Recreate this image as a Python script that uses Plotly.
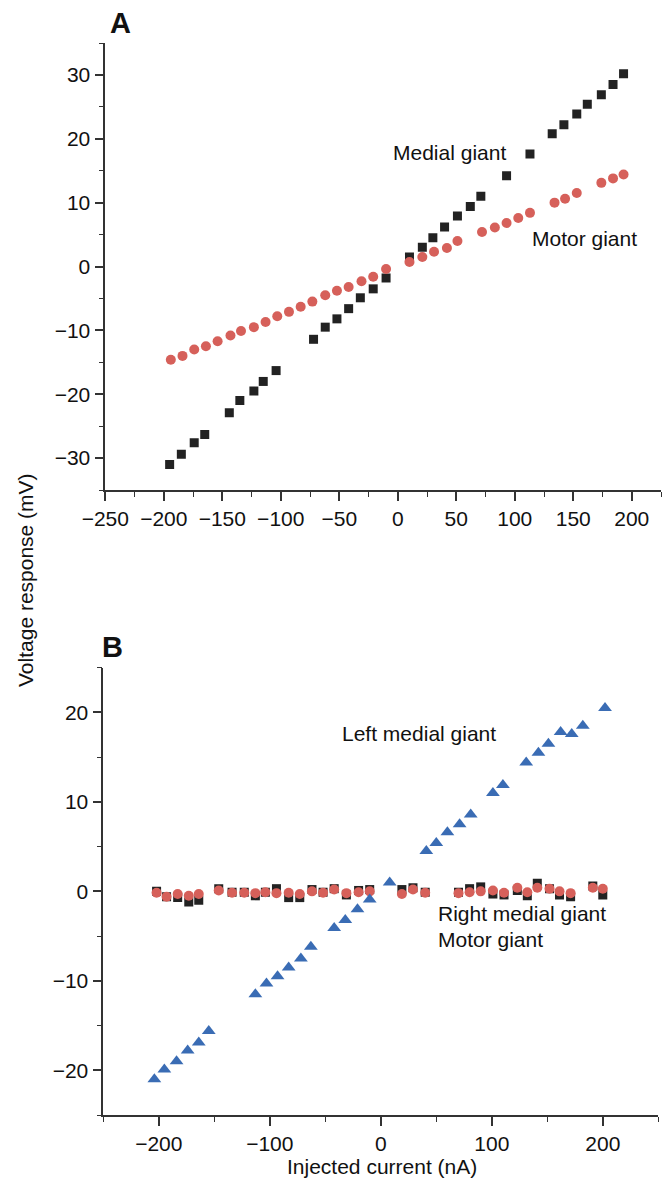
import plotly.graph_objects as go

W, H = 668, 1182

# ---------------- Panel A data ----------------
a_medial_x = [-195, -185, -174, -165, -144, -135, -123, -115, -104, -72, -62, -52, -42, -32, -21, -10,
              10, 21, 30, 40, 51, 62, 71, 93, 113, 132, 142, 153, 162, 174, 184, 193]
a_medial_y = [-31.0, -29.4, -27.6, -26.3, -22.9, -21.0, -19.5, -18.0, -16.3, -11.4, -9.5, -8.2, -6.6, -4.9, -3.5, -1.8,
              1.5, 3.0, 4.5, 6.2, 7.9, 9.4, 11.0, 14.2, 17.6, 20.8, 22.2, 23.9, 25.4, 26.9, 28.5, 30.2]

a_motor_x = [-194, -184, -174, -164, -154, -143, -134, -123, -113, -103, -93, -83, -73, -62, -52, -42, -31, -21, -10,
             10, 21, 31, 42, 51, 72, 83, 93, 103, 113, 134, 143, 153, 174, 184, 193]
a_motor_y = [-14.6, -14.0, -13.0, -12.5, -11.7, -10.8, -10.1, -9.5, -8.7, -7.8, -7.1, -6.3, -5.5, -4.5, -3.8, -3.2, -2.3, -1.6, -0.4,
             0.7, 1.5, 2.3, 2.9, 4.0, 5.4, 6.1, 6.8, 7.6, 8.4, 10.0, 10.6, 11.5, 13.1, 13.8, 14.4]

# ---------------- Panel B data ----------------
b_left_x = [-204, -195, -184, -174, -164, -155, -113, -103, -93, -83, -72, -63, -42, -32, -21, -10, 8,
            41, 50, 60, 71, 81, 101, 110, 131, 142, 151, 162, 172, 182, 202]
b_left_y = [-21.0, -19.9, -19.0, -17.8, -16.9, -15.6, -11.5, -10.3, -9.5, -8.5, -7.5, -6.2, -4.1, -3.2, -2.0, -0.9, 1.0,
            4.5, 5.4, 6.6, 7.5, 8.6, 11.0, 11.9, 14.4, 15.5, 16.5, 17.8, 17.6, 18.5, 20.5]

b_x = [-202, -193, -183, -173, -164, -146, -134, -123, -113, -104, -94, -83, -73, -62, -52, -42, -31, -20, -10,
       19, 29, 40, 70, 80, 90, 101, 111, 123, 132, 141, 152, 161, 171, 191, 200]
b_right_y = [0.0, -0.6, -0.7, -1.2, -1.0, 0.3, -0.1, -0.1, -0.5, -0.1, 0.3, -0.7, -0.7, 0.2, -0.1, 0.3, -0.4, 0.1, 0.2,
             0.2, 0.4, -0.1, -0.1, 0.3, 0.5, -0.3, -0.4, 0.1, -0.5, 0.9, 0.3, -0.4, -0.6, 0.6, -0.4]
b_motor_y = [-0.15, -0.6, -0.3, -0.5, -0.3, 0.1, -0.15, -0.15, -0.2, -0.1, -0.2, -0.15, -0.3, 0.0, -0.15, 0.2, -0.2, -0.1, 0.0,
             -0.3, 0.2, -0.15, -0.2, -0.1, 0.0, 0.1, -0.15, 0.4, -0.1, 0.4, 0.3, 0.0, -0.2, 0.4, 0.3]

BLACK = "#222222"
RED = "#d6605a"
BLUE = "#3a6cb4"
FONT = "Liberation Sans, Arial, Helvetica, sans-serif"
FS = 21

fig = go.Figure()

fig.add_trace(go.Scatter(x=a_medial_x, y=a_medial_y, mode="markers", xaxis="x", yaxis="y",
                         marker=dict(symbol="square", size=9, color=BLACK), showlegend=False))
fig.add_trace(go.Scatter(x=a_motor_x, y=a_motor_y, mode="markers", xaxis="x", yaxis="y",
                         marker=dict(symbol="circle", size=10, color=RED), showlegend=False))

fig.add_trace(go.Scatter(x=b_x, y=b_right_y, mode="markers", xaxis="x2", yaxis="y2",
                         marker=dict(symbol="square", size=9, color=BLACK), showlegend=False))
fig.add_trace(go.Scatter(x=b_x, y=b_motor_y, mode="markers", xaxis="x2", yaxis="y2",
                         marker=dict(symbol="circle", size=10, color=RED), showlegend=False))
fig.add_trace(go.Scatter(x=b_left_x, y=b_left_y, mode="markers", xaxis="x2", yaxis="y2",
                         marker=dict(symbol="triangle-up", size=12, color=BLUE), showlegend=False))

LINE = "#333333"


def axis_style(rng, dtick, minor_dtick, dom):
    return dict(range=rng, domain=dom, showline=True, linecolor=LINE, linewidth=1.6,
                showgrid=False, zeroline=False, ticks="outside", ticklen=9, tickwidth=1.5,
                tickcolor=LINE, dtick=dtick, tick0=0, automargin=False,
                tickfont=dict(family=FONT, size=FS, color="#111111"),
                minor=dict(ticks="outside", ticklen=5, tickwidth=1.3, tickcolor=LINE,
                           dtick=minor_dtick, tick0=0, showgrid=False),
                fixedrange=True)


fig.update_layout(
    width=W, height=H,
    margin=dict(l=0, r=0, t=0, b=0),
    paper_bgcolor="white", plot_bgcolor="white",
    font=dict(family=FONT, size=FS, color="#111111"),
    xaxis=axis_style([-250, 225], 50, 25, [105.3 / W, 661 / W]),
    yaxis=axis_style([-35, 35], 10, 5, [1 - 490 / H, 1 - 43 / H]),
    xaxis2=axis_style([-250, 250], 100, 50, [103.3 / W, 658.3 / W]),
    yaxis2=axis_style([-25, 25], 10, 5, [1 - 1115 / H, 1 - 667.7 / H]),
)
fig.layout.xaxis.anchor = "y"
fig.layout.yaxis.anchor = "x"
fig.layout.xaxis2.anchor = "y2"
fig.layout.yaxis2.anchor = "x2"


def px_ann(text, x, y, size=FS, bold=False, xanchor="left", angle=0):
    return dict(text=("<b>%s</b>" % text) if bold else text, x=x / W, y=1 - y / H,
                xref="paper", yref="paper", xanchor=xanchor, yanchor="middle",
                showarrow=False, textangle=angle,
                font=dict(family=FONT, size=size, color="#111111"))


fig.update_layout(annotations=[
    px_ann("A", 120.5, 22.5, size=29, bold=True, xanchor="center"),
    px_ann("B", 112, 647, size=29, bold=True, xanchor="center"),
    px_ann("Medial giant", 391, 152),
    px_ann("Motor giant", 530, 239),
    px_ann("Left medial giant", 340, 733),
    px_ann("Right medial giant", 436, 913),
    px_ann("Motor giant", 436, 939),
    px_ann("Voltage response (mV)", 25, 580, xanchor="center", angle=-90),
    px_ann("Injected current (nA)", 382, 1166, xanchor="center"),
])

fig.write_html("out.html", config={"displayModeBar": False},
               post_script="document.body.style.margin='0';document.body.style.overflow='hidden';")
